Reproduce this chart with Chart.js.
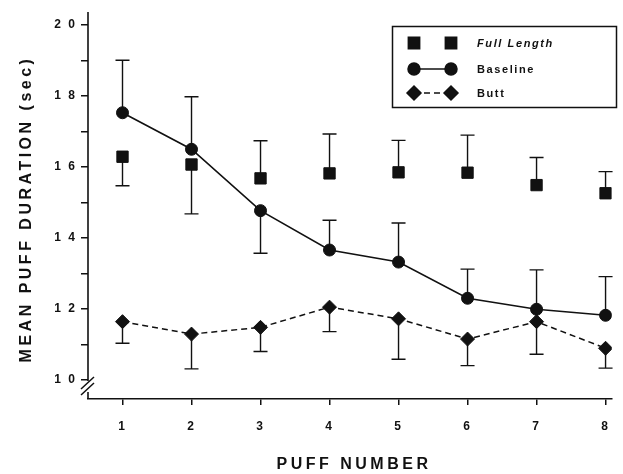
<!DOCTYPE html>
<html>
<head>
<meta charset="utf-8">
<title>Mean puff duration by puff number</title>
<script src="https://cdn.jsdelivr.net/npm/chart.js@4.4.1/dist/chart.umd.min.js"></script>
<style>
  html, body { margin: 0; padding: 0; background: #fff; }
  #wrap { width: 623px; height: 474px; }
</style>
</head>
<body>
<div id="wrap"><canvas id="chart" width="623" height="474"></canvas></div>
<script>
/* ---- values ---- */
const puffs = [1, 2, 3, 4, 5, 6, 7, 8];

const fullLength    = [16.29, 16.07, 15.68, 15.82, 15.85, 15.84, 15.49, 15.26];
const fullLengthErr = [15.47, 14.68, 16.74, 16.93, 16.75, 16.90, 16.27, 15.87]; // whisker end
const baseline      = [17.53, 16.50, 14.77, 13.66, 13.32, 12.30, 11.99, 11.82];
const baselineErr   = [19.01, 17.98, 13.57, 14.50, 14.42, 13.12, 13.10, 12.91];
const butt          = [11.64, 11.29, 11.48, 12.05, 11.72, 11.15, 11.64, 10.89];
const buttErr       = [11.03, 10.31, 10.80, 11.36, 10.58, 10.40, 10.72, 10.33];

const yTicks      = [10, 11, 12, 13, 14, 15, 16, 17, 18, 19, 20];
const yTickLabels = ['1 0', '', '1 2', '', '1 4', '', '1 6', '', '1 8', '', '2 0'];
const xTickLabels = ['1', '2', '3', '4', '5', '6', '7', '8'];
const seriesNames = ['Full Length', 'Baseline', 'Butt'];

const INK = '#111';
const FONT = '"Liberation Sans", Arial, Helvetica, sans-serif';

const pts = (vals) => puffs.map((p, i) => ({ x: p, y: vals[i] }));

// one-sided SE whiskers, drawn under the markers
const errorBars = {
    id: 'errorBars',
    beforeDatasetsDraw(chart) {
        const ctx = chart.ctx;
        const yScale = chart.scales.y;
        ctx.save();
        ctx.strokeStyle = INK;
        ctx.lineWidth = 1.4;
        chart.data.datasets.forEach((ds, di) => {
            chart.getDatasetMeta(di).data.forEach((pt, i) => {
                const yEnd = yScale.getPixelForValue(ds.errEnd[i]);
                ctx.beginPath();
                ctx.moveTo(pt.x, pt.y);
                ctx.lineTo(pt.x, yEnd);
                ctx.moveTo(pt.x - 7, yEnd);
                ctx.lineTo(pt.x + 7, yEnd);
                ctx.stroke();
            });
        });
        ctx.restore();
    }
};

// broken y axis, axis titles and the boxed legend
const decorations = {
    id: 'decorations',
    beforeDraw(chart) {
        chart.ctx.letterSpacing = '2px'; // spaced tick digits
    },
    afterDraw(chart) {
        const ctx = chart.ctx;
        const area = chart.chartArea;
        const ax = area.left;
        ctx.save();
        ctx.letterSpacing = '0px';
        ctx.strokeStyle = INK;
        ctx.fillStyle = INK;
        ctx.lineWidth = 1.6;

        // y axis with break
        ctx.beginPath();
        ctx.moveTo(ax, area.top);
        ctx.lineTo(ax, 381);
        ctx.moveTo(ax, 392);
        ctx.lineTo(ax, area.bottom);
        ctx.stroke();
        ctx.lineWidth = 1.5;
        ctx.beginPath();
        ctx.moveTo(ax - 7, 389);
        ctx.lineTo(ax + 6, 377);
        ctx.moveTo(ax - 7, 395);
        ctx.lineTo(ax + 6, 383);
        ctx.stroke();

        // axis titles
        ctx.font = 'bold 16px ' + FONT;
        ctx.textAlign = 'center';
        ctx.textBaseline = 'middle';
        ctx.letterSpacing = '3.5px';
        ctx.fillText('PUFF NUMBER', 354, 465);
        ctx.save();
        ctx.translate(27, 209);
        ctx.rotate(-Math.PI / 2);
        ctx.fillText('MEAN PUFF DURATION (sec)', 0, 0);
        ctx.restore();

        // legend box
        ctx.letterSpacing = '0px';
        ctx.lineWidth = 1.5;
        ctx.strokeRect(392.5, 26.5, 224, 81);
        const rows = [43, 69, 93];
        const x1 = 414, x2 = 451;
        chart.data.datasets.forEach((ds, i) => {
            const y = rows[i];
            if (ds.showLine !== false) {
                ctx.save();
                ctx.lineWidth = ds.borderWidth;
                ctx.setLineDash(ds.borderDash || []);
                ctx.beginPath();
                ctx.moveTo(x1, y);
                ctx.lineTo(x2, y);
                ctx.stroke();
                ctx.restore();
            }
            const style = { pointStyle: ds.pointStyle, radius: ds.pointRadius, rotation: 0, borderWidth: 1 };
            Chart.helpers.drawPoint(ctx, style, x1, y);
            Chart.helpers.drawPoint(ctx, style, x2, y);
            ctx.font = (i === 0 ? 'italic ' : '') + 'bold 11px ' + FONT;
            ctx.letterSpacing = '1.6px';
            ctx.textAlign = 'left';
            ctx.fillText(ds.label, 477, y + 1);
            ctx.letterSpacing = '0px';
        });
        ctx.restore();
    }
};

const marker = (style, r) => ({
    pointStyle: style,
    pointRadius: r,
    pointHoverRadius: r,
    pointBackgroundColor: INK,
    pointBorderColor: INK,
    pointBorderWidth: 1
});

new Chart(document.getElementById('chart'), {
    type: 'line',
    data: {
        datasets: [
            {
                label: seriesNames[0],
                data: pts(fullLength),
                errEnd: fullLengthErr,
                showLine: false,
                borderColor: INK,
                borderWidth: 0,
                ...marker('rect', 8)
            },
            {
                label: seriesNames[1],
                data: pts(baseline),
                errEnd: baselineErr,
                borderColor: INK,
                borderWidth: 1.6,
                tension: 0,
                ...marker('circle', 6)
            },
            {
                label: seriesNames[2],
                data: pts(butt),
                errEnd: buttErr,
                borderColor: INK,
                borderWidth: 1.5,
                borderDash: [6, 4],
                tension: 0,
                ...marker('rectRot', 7)
            }
        ]
    },
    options: {
        responsive: false,
        animation: false,
        devicePixelRatio: 1,
        layout: { padding: { top: 12, right: 3, left: 0, bottom: 0 } },
        plugins: {
            legend: { display: false },
            tooltip: { enabled: false }
        },
        scales: {
            x: {
                type: 'linear',
                min: 0.5,
                max: 8.09,
                afterBuildTicks: (scale) => { scale.ticks = puffs.map(v => ({ value: v })); },
                afterFit: (scale) => { scale.height = 75; },
                grid: { drawOnChartArea: false, drawTicks: true, tickLength: 6, color: INK, lineWidth: 1.5 },
                border: { display: true, color: INK, width: 1.6 },
                ticks: {
                    color: INK,
                    padding: 14,
                    font: { family: FONT, size: 12, weight: 'bold' },
                    callback: (v) => xTickLabels[puffs.indexOf(v)]
                }
            },
            y: {
                min: 9.46,
                max: 20.37,
                afterBuildTicks: (scale) => { scale.ticks = yTicks.map(v => ({ value: v })); },
                afterFit: (scale) => { scale.width = 88; },
                grid: { drawOnChartArea: false, drawTicks: true, tickLength: 7, color: INK, lineWidth: 1.5 },
                border: { display: false },
                ticks: {
                    color: INK,
                    padding: 4,
                    font: { family: FONT, size: 12, weight: 'bold' },
                    callback: (v) => yTickLabels[yTicks.indexOf(v)]
                }
            }
        }
    },
    plugins: [errorBars, decorations]
});
</script>
</body>
</html>
